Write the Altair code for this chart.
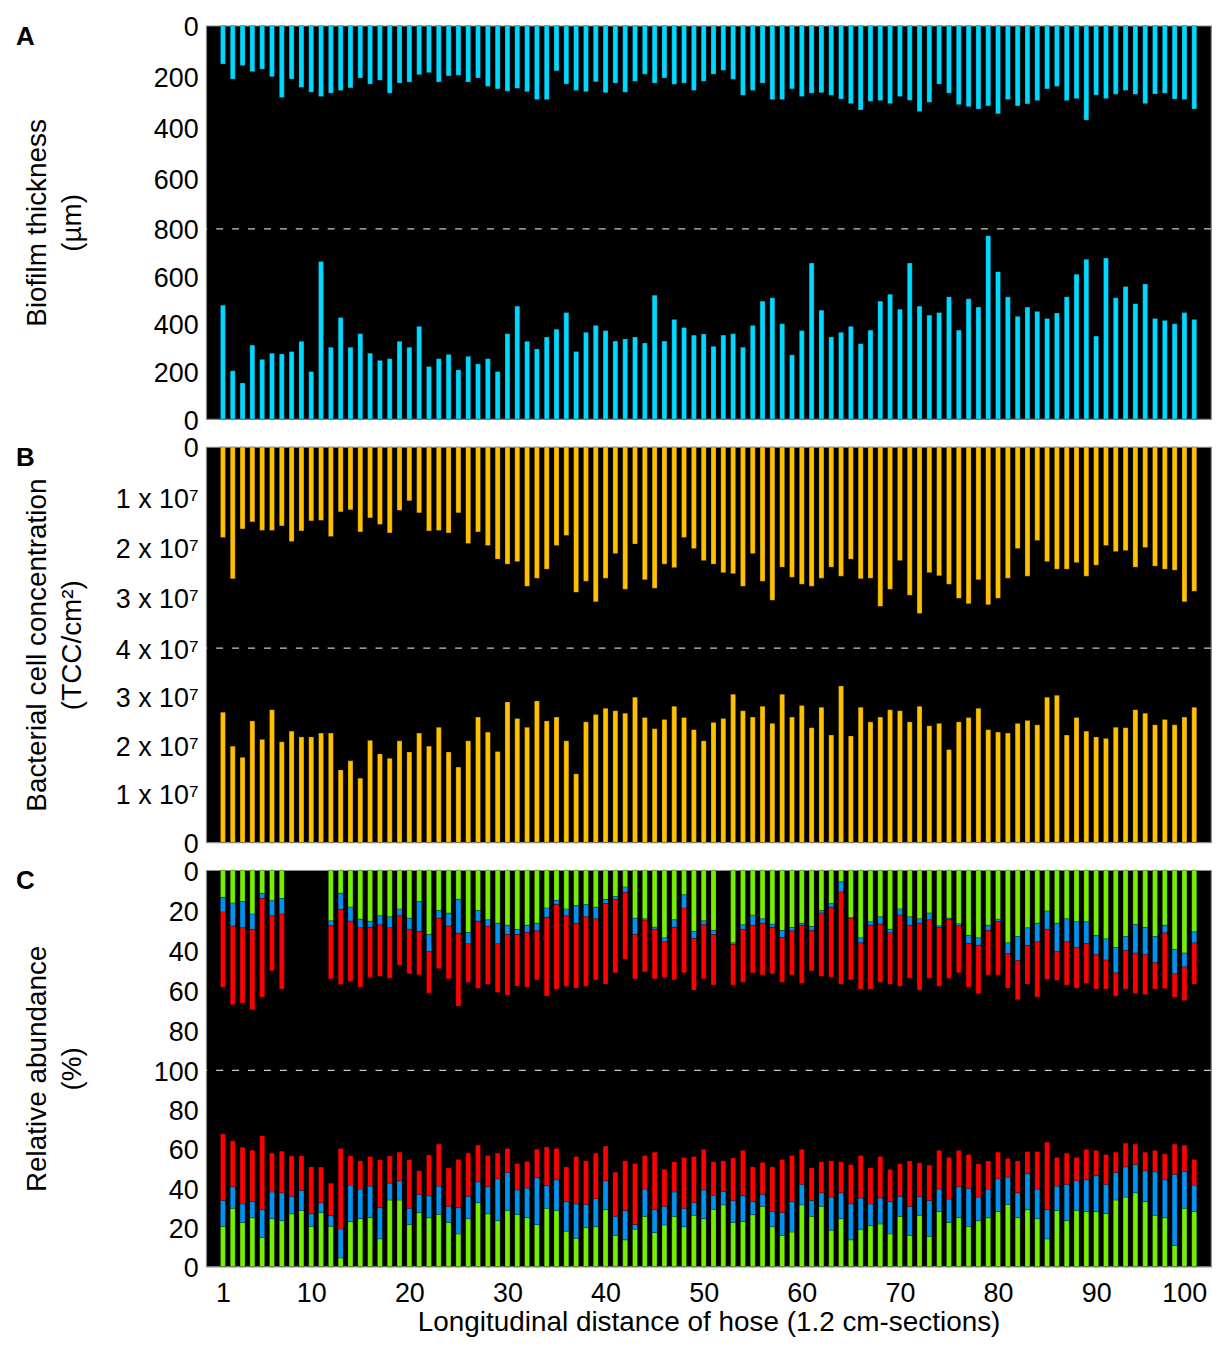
import altair as alt
import pandas as pd

sections = list(range(1, 101))

# ---------------- Panel A: biofilm thickness (um) ----------------
thick_top = [151, 210, 157, 181, 171, 201, 283, 210, 243, 262, 279, 266, 255, 245, 206, 230, 215, 266, 226, 222,
             193, 185, 222, 198, 195, 222, 206, 239, 249, 258, 247, 260, 291, 291,
             178, 230, 255, 260, 221, 264, 226, 262, 219, 191, 226, 206, 231, 226, 255, 219, 191, 176, 211, 274,
             255, 226, 291, 291, 249, 279, 266, 264, 274, 289, 307, 332, 298, 295,
             307, 279, 294, 338, 302, 230, 266, 311, 319, 328, 316, 347, 291, 316, 308, 295, 249, 239, 295, 287,
             372, 273, 287, 270, 255, 270, 307, 269, 266, 289, 291, 328]
thick_bot = [479, 203, 152, 311, 251, 277, 274, 284, 327, 200, 663, 302, 427, 302, 359, 277, 247, 254, 327, 302,
             390, 221, 254, 272, 207, 264, 232, 254, 200, 359, 475, 327, 295, 345,
             378, 448, 284, 365, 394, 372, 328, 337, 345, 320, 521, 328, 419, 385, 353, 358, 306, 353, 359, 302,
             394, 496, 510, 401, 270, 372, 656, 458, 345, 365, 390, 317, 374, 496,
             525, 462, 656, 475, 437, 448, 514, 374, 506, 471, 771, 620, 514, 432, 471, 453, 423, 446, 514, 609,
             672, 349, 677, 510, 557, 485, 568, 423, 415, 401, 448, 419]

# ---------------- Panel B: bacterial cell concentration (x 10^7 TCC/cm2) ----------------
tcc_top = [1.80, 2.62, 1.63, 1.49, 1.66, 1.66, 1.57, 1.88, 1.67, 1.47, 1.46, 1.78, 1.29, 1.25, 1.69, 1.41, 1.54,
           1.71, 1.26, 1.07, 1.31, 1.67, 1.66, 1.71, 1.31, 1.92, 1.69, 1.96, 2.23, 2.33, 2.28, 2.77, 2.61, 2.43,
           1.96, 1.76, 2.89, 2.67, 3.08, 2.61, 2.12, 2.83, 1.93, 2.64, 2.81, 2.33, 2.40, 1.80, 2.02, 2.26, 2.33,
           2.50, 2.52, 2.77, 2.12, 2.67, 3.05, 2.39, 2.59, 2.73, 2.77, 2.61, 2.39, 2.57, 2.23, 2.62, 2.61, 3.17,
           2.83, 2.26, 2.95, 3.31, 2.50, 2.56, 2.73, 3.01, 3.12, 2.64, 3.14, 3.01, 2.61, 2.02, 2.57, 1.86, 2.28,
           2.43, 2.43, 2.30, 2.57, 2.35, 1.96, 2.08, 2.06, 2.39, 2.00, 2.37, 2.43, 2.45, 3.08, 2.87]
tcc_bot = [2.68, 1.98, 1.75, 2.50, 2.12, 2.73, 2.07, 2.29, 2.17, 2.17, 2.25, 2.25, 1.49, 1.68, 1.32, 2.10, 1.82,
           1.73, 2.09, 1.86, 2.25, 1.98, 2.37, 1.86, 1.55, 2.09, 2.58, 2.27, 1.87, 2.89, 2.55, 2.37, 2.91, 2.50,
           2.58, 2.09, 1.41, 2.48, 2.63, 2.76, 2.71, 2.66, 2.99, 2.57, 2.34, 2.53, 2.80, 2.57, 2.32, 2.09, 2.47,
           2.55, 3.05, 2.71, 2.58, 2.80, 2.45, 3.05, 2.58, 2.82, 2.36, 2.78, 2.21, 3.22, 2.19, 2.78, 2.48, 2.58,
           2.73, 2.71, 2.48, 2.80, 2.40, 2.45, 1.91, 2.48, 2.57, 2.76, 2.32, 2.27, 2.25, 2.45, 2.51, 2.42, 2.99,
           3.03, 2.21, 2.57, 2.29, 2.17, 2.14, 2.37, 2.36, 2.73, 2.66, 2.42, 2.53, 2.42, 2.58, 2.78]

# ---------------- Panel C: relative abundance (%) ----------------
N = None
c_top_green = [13.7, 16.4, 15.7, 21.9, 11.6, 15.2, 14.1, N, N, N, N, 25.3, 11.6, 18.4, 24.5, 25.5, 22.8, 23.3,
               19.4, 24.0, 15.7, 32.1, 20.2, 21.5, 14.6, 31.1, 20.2, 24.8, 26.5, 27.5, 29.6, 27.5, 26.5, 18.9,
               15.1, 19.4, 17.7, 17.2, 18.5, 14.6, 13.2, 8.4, 24.0, 24.3, 28.5, 33.8, 24.8, 12.3, 30.6, 25.3,
               30.1, N, 36.3, 27.3, 22.4, 24.3, 27.0, 30.1, 28.6, 26.5, 28.1, 20.2, 16.7, 5.8, 23.8, 33.8, 25.8,
               23.3, 29.5, 19.4, 23.3, 24.3, 21.4, 27.8, 24.0, 26.8, 32.6, 33.8, 27.5, 24.5, 36.3, 33.1, 28.8,
               26.5, 20.4, 26.5, 24.3, 25.8, 25.8, 32.6, 34.3, 38.6, 33.1, 27.2, 28.6, 33.1, 27.5, 39.6, 41.4, 30.8]
c_top_blue = [7.2, 11.6, 13.1, 7.7, 2.5, 7.6, 7.8, N, N, N, N, 2.2, 7.9, 7.1, 4.3, 3.0, 4.5, 5.5, 3.4, 5.6,
              14.9, 8.6, 3.8, 6.5, 16.9, 5.7, 5.3, 3.2, 10.3, 4.6, 2.5, 3.6, 3.8, 4.6,
              2.1, 3.4, 8.8, 6.1, 5.8, 2.1, 1.4, 2.7, 8.1, 0.7, 1.1, 2.0, 3.7, 6.6, 3.5, 2.0, 2.0, N, 0.8, 2.3,
              5.1, 2.2, 1.5, 3.5, 1.7, 1.0, 2.0, 1.2, 1.8, 5.1, 0.2, 2.5, 1.7, 3.7,
              1.8, 3.0, 4.2, 2.2, 3.4, 0.8, 0.5, 1.0, 4.0, 3.8, 2.6, 1.2, 5.4, 12.1, 8.8, 9.3, 9.1, 14.2, 11.5,
              12.9, 10.8, 9.6, 10.6, 12.7, 7.1, 14.2, 13.6, 13.1, 3.8, 12.2, 6.9, 5.5]
c_top_red = [37.5, 39.2, 37.6, 40.1, 49.3, 27.5, 37.5, N, N, N, N, 26.8, 37.5, 30.0, 29.6, 25.0, 25.7, 25.2,
             24.6, 22.1, 21.6, 20.7, 25.2, 26.3, 36.4, 19.2, 33.5, 29.1, 24.3, 30.3, 25.8, 27.3, 24.5, 39.4,
             42.2, 35.2, 32.4, 34.7, 30.5, 40.2, 36.7, 33.3, 22.2, 25.8, 24.7, 17.7, 26.3, 32.4, 25.8, 27.0,
             25.3, N, 20.3, 26.4, 23.8, 25.8, 23.3, 22.4, 22.0, 29.0, 20.2, 31.6, 35.0, 46.0, 30.8, 23.1, 31.9,
             29.0, 25.6, 35.6, 26.5, 33.4, 29.2, 29.4, 29.5, 23.5, 21.8, 24.0, 22.2, 26.6, 17.2, 19.5, 19.3,
             27.6, 25.0, 14.3, 21.6, 20.2, 19.9, 17.2, 14.5, 11.6, 19.2, 20.2, 19.9, 13.2, 27.8, 11.6, 16.8, 20.6]
c_bot_green = [20.5, 29.7, 22.5, 24.9, 14.9, 24.4, 23.4, 26.9, 28.6, 20.5, 27.5, 20.5, 4.4, 22.9, 24.4, 24.9,
               14.1, 33.9, 33.9, 21.4, 27.5, 24.9, 26.6, 22.5, 16.6, 24.4, 32.5, 26.9, 23.4, 28.6, 26.6, 24.9,
               21.4, 29.7, 28.6, 18.0, 14.4, 19.8, 20.3, 29.0, 15.9, 13.6, 19.0, 25.6, 17.3, 21.2, 25.6, 20.3,
               26.1, 24.4, 29.2, 31.4, 22.5, 22.9, 26.4, 30.7, 20.3, 15.9, 17.6, 31.4, 25.6, 30.7, 18.5, 24.4,
               13.6, 19.0, 20.8, 21.7, 16.6, 25.6, 15.9, 26.1, 15.4, 28.0, 22.5, 24.9, 20.5, 23.4, 24.9, 28.0,
               31.7, 24.9, 29.0, 24.4, 14.1, 28.6, 23.4, 28.6, 28.0, 28.0, 27.0, 33.9, 35.4, 37.6, 33.1, 26.1,
               24.9, 10.8, 29.7, 28.0]
c_bot_blue = [13.2, 11.0, 9.4, 8.2, 14.1, 13.6, 14.2, 8.9, 10.2, 6.4, 5.0, 5.4, 14.8, 18.6, 15.1, 16.1, 15.9,
              8.6, 9.8, 8.3, 9.3, 11.2, 14.4, 8.2, 13.4, 11.4, 10.7, 13.8, 21.3, 19.4, 12.4, 15.1, 23.9, 11.5,
              15.6, 15.1, 17.5, 11.9, 14.3, 14.7, 9.7, 15.0, 2.4, 13.9, 11.7, 9.5, 12.4, 9.4, 6.6, 14.6, 7.1,
              6.9, 11.2, 13.2, 6.7, 6.1, 7.7, 11.6, 15.5, 10.5, 8.1, 6.9, 16.9, 13.2, 18.4, 15.9, 11.1, 13.2,
              16.5, 10.2, 14.8, 9.5, 18.3, 11.5, 11.9, 15.8, 19.3, 12.0, 14.6, 16.7, 13.9, 12.7, 18.3, 15.1,
              14.9, 12.4, 18.5, 15.1, 16.2, 18.3, 14.9, 14.1, 15.4, 14.4, 15.7, 22.2, 19.3, 36.2, 18.8, 13.5]
c_bot_red = [33.9, 23.4, 28.9, 26.2, 37.6, 19.8, 21.2, 20.6, 17.6, 23.9, 18.2, 16.6, 41.0, 14.9, 14.4, 15.1,
             24.4, 13.9, 14.6, 24.7, 12.0, 20.8, 21.4, 19.5, 24.6, 22.0, 18.7, 15.9, 13.1, 12.2, 13.5, 13.6,
             14.5, 19.8, 16.0, 17.7, 24.2, 22.2, 23.2, 17.7, 22.5, 25.3, 31.1, 17.1, 29.3, 18.8, 15.4, 25.9,
             23.4, 20.7, 17.1, 15.6, 21.6, 23.1, 17.7, 16.3, 22.8, 27.1, 23.5, 17.8, 16.6, 15.8, 18.5, 15.8,
             20.0, 21.7, 18.4, 21.2, 16.4, 16.6, 23.1, 17.3, 18.0, 19.7, 21.2, 18.5, 17.3, 17.0, 14.3, 13.6,
             9.5, 16.2, 11.3, 19.1, 34.4, 14.6, 15.9, 11.9, 15.5, 12.9, 15.2, 10.3, 12.1, 10.4, 9.5, 10.9,
             13.3, 15.4, 13.4, 13.1]

x_ticks = [1, 10, 20, 30, 40, 50, 60, 70, 80, 90, 100]

FONT = "Liberation Sans"
FS = 27      # tick labels
TFS = 28     # axis titles
W = 1009
XSCALE = alt.Scale(domain=[-0.2, 101.2], nice=False, zero=False)
TITLE_X = -183


def yaxis(values, label_expr, title, h):
    return alt.Axis(values=values, labelExpr=label_expr, title=title, grid=False, ticks=False,
                    domain=False, labelFont=FONT, labelFontSize=FS, labelColor="black",
                    labelPadding=8, labelOffset=2, titleFont=FONT, titleFontSize=TFS,
                    titleFontWeight="normal", titleColor="black", titleX=TITLE_X, titleY=h / 2,
                    titleAngle=270, titleAlign="center", titleBaseline="top", titleLineHeight=35)


def letter(txt):
    return alt.Chart(pd.DataFrame({"t": [txt]})).mark_text(
        font=FONT, fontSize=26, fontWeight="bold", align="left", baseline="middle", color="black"
    ).encode(text="t:N", x=alt.value(-191), y=alt.value(11))


def midline(val, scale, axis):
    # dashed separator at the fold between the two mirrored halves
    return alt.Chart(pd.DataFrame({"y0": [val]})).mark_rule(
        color="#c8c8c8", strokeDash=[7, 9], strokeWidth=1.3
    ).encode(y=alt.Y("y0:Q", scale=scale, axis=axis))


def mirrored_panel(top, bot, full, scale, h, values, label_expr, title, color, txt):
    df = pd.DataFrame({"sec": sections * 2, "half": ["top"] * 100 + ["bot"] * 100,
                       "val": top + bot})
    ax = yaxis(values, label_expr, title, h)
    bars = alt.Chart(df).transform_calculate(
        y0=f"datum.half == 'top' ? {full} : 0",
        y1=f"datum.half == 'top' ? {full} - datum.val : datum.val",
    ).mark_bar(size=5, color=color, stroke="#000000", strokeOpacity=0.35, strokeWidth=0.7).encode(
        x=alt.X("sec:Q", scale=XSCALE, axis=None),
        y=alt.Y("y0:Q", scale=scale, axis=ax),
        y2="y1:Q",
    )
    return alt.layer(bars, midline(full / 2, scale, ax), letter(txt)).properties(width=W, height=h)


# Panel A (piecewise scale: upper half slightly taller than lower half)
HA, MA = 395, 204
scaleA = alt.Scale(domain=[0, 800, 1600], range=[HA, MA, 0], nice=False, zero=False)
chartA = mirrored_panel(
    thick_top, thick_bot, 1600, scaleA, HA, list(range(0, 1601, 200)),
    "datum.value <= 800 ? format(datum.value, 'd') : format(1600 - datum.value, 'd')",
    ["Biofilm thickness", "(µm)"], "#00d8ff", "A")

# Panel B (values in units of 10^7)
HB, MB = 397, 202
scaleB = alt.Scale(domain=[0, 4, 8], range=[HB, MB, 0], nice=False, zero=False)
chartB = mirrored_panel(
    tcc_top, tcc_bot, 8, scaleB, HB, list(range(0, 9)),
    "(datum.value == 0 || datum.value == 8) ? '0' : "
    "format(datum.value <= 4 ? datum.value : 8 - datum.value, 'd') + ' x 10⁷'",
    ["Bacterial cell concentration", "(TCC/cm²)"], "#ffc000", "B")

# Panel C (stacked)
HC, MC = 398, 201
rows = []
comps = ["green", "blue", "red"]
for i, s in enumerate(sections):
    for half, arrs in (("top", (c_top_green, c_top_blue, c_top_red)),
                       ("bot", (c_bot_green, c_bot_blue, c_bot_red))):
        for k, (comp, arr) in enumerate(zip(comps, arrs)):
            v = arr[i]
            if v is None:
                continue
            rows.append({"sec": s, "half": half, "comp": comp, "order": k, "val": v})
dfC = pd.DataFrame(rows)
scaleC = alt.Scale(domain=[0, 100, 200], range=[HC, MC, 0], nice=False, zero=False)
axC = yaxis(list(range(0, 201, 20)),
            "format(datum.value <= 100 ? datum.value : 200 - datum.value, 'd')",
            ["Relative abundance", "(%)"], HC)
xaxisC = alt.Axis(values=x_ticks, grid=False, ticks=False, domain=False, labelFont=FONT,
                  labelFontSize=FS, labelColor="black", labelPadding=14, labelFlush=False,
                  labelOffset={"condition": {"test": "datum.value == 100", "value": -10}, "value": 0},
                  title="Longitudinal distance of hose (1.2 cm-sections)", titleFont=FONT,
                  titleFontSize=TFS, titleFontWeight="normal", titleColor="black", titlePadding=2)
barsC = alt.Chart(dfC).transform_stack(
    stack="val", groupby=["sec", "half"], as_=["s0", "s1"], sort=[alt.SortField("order", "ascending")]
).transform_calculate(
    y0="datum.half == 'top' ? 200 - datum.s0 : datum.s0",
    y1="datum.half == 'top' ? 200 - datum.s1 : datum.s1",
).mark_bar(size=5, stroke="#000000", strokeOpacity=0.35, strokeWidth=0.7).encode(
    x=alt.X("sec:Q", scale=XSCALE, axis=xaxisC),
    y=alt.Y("y0:Q", scale=scaleC, axis=axC),
    y2="y1:Q",
    color=alt.Color("comp:N", scale=alt.Scale(domain=comps, range=["#74f000", "#0094f0", "#ff0000"]),
                    legend=None),
)
chartC = alt.layer(barsC, midline(100, scaleC, axC), letter("C")).properties(width=W, height=HC)

chart = alt.vconcat(chartA, chartB, chartC, spacing=28, bounds="flush").properties(
    padding={"left": 7, "top": 2, "right": 0, "bottom": 0}, background="white"
).configure_view(fill="black", stroke="#8a8a8a", strokeWidth=1.2)

chart.save("out.html", embed_options={"renderer": "svg", "actions": False})
